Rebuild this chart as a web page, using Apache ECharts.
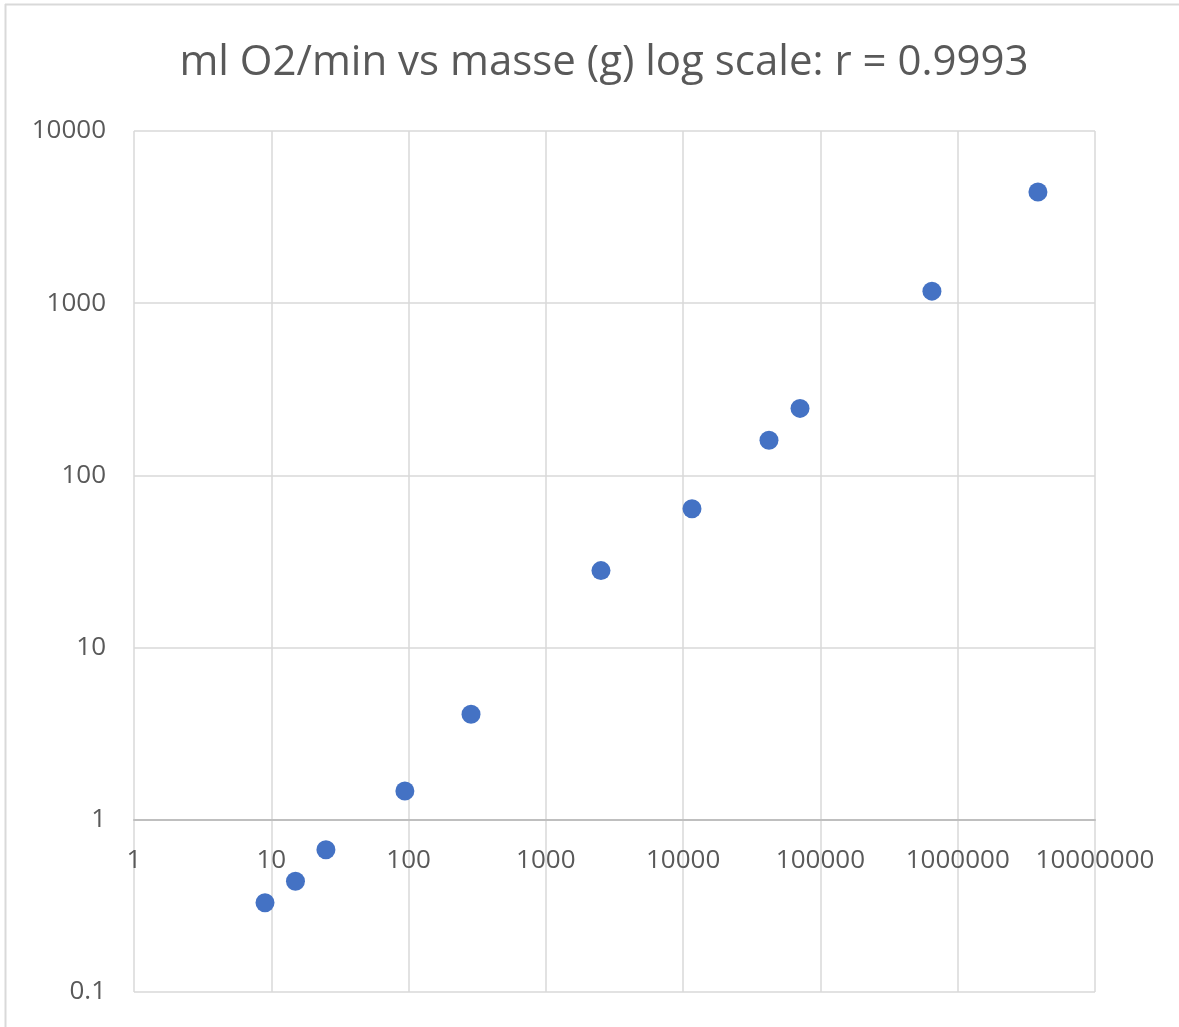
<!DOCTYPE html>
<html>
<head>
<meta charset="utf-8">
<script src="https://cdn.jsdelivr.net/npm/echarts@6/dist/echarts.min.js"></script>
<style>
html,body{margin:0;padding:0;background:#fff;}
#main{width:1179px;height:1027px;}
</style>
</head>
<body>
<div id="main"></div>
<script>
const titleText = 'ml O2/min vs masse (g) log scale: r = 0.9993';
const masse = [9, 15, 25, 94, 285, 2520, 11600, 42200, 71000, 649000, 3840000];
const o2 = [0.33, 0.44, 0.67, 1.47, 4.1, 28, 64, 160, 245, 1175, 4420];
const xTicks = [1, 10, 100, 1000, 10000, 100000, 1000000, 10000000];
const yTicks = [0.1, 1, 10, 100, 1000, 10000];

const points = masse.map((m, i) => [m, o2[i]]);
const fmt = v => (v >= 1 ? String(Math.round(v)) : String(+v.toPrecision(1)));

const chart = echarts.init(document.getElementById('main'), null, {renderer: 'canvas'});
const gridTop = 131, gridBottom = 35, gridH = 1027 - gridTop - gridBottom;
const yMinLog = Math.log10(yTicks[0]), yMaxLog = Math.log10(yTicks[yTicks.length - 1]);
const crossOffset = -gridH * (0 - yMinLog) / (yMaxLog - yMinLog);

chart.setOption({
  animation: false,
  backgroundColor: '#fff',
  title: {
    text: titleText,
    left: 599,
    top: 37,
    textAlign: 'center',
    textStyle: {fontFamily: 'Open Sans', fontSize: 42, fontWeight: 'normal', color: '#595959'}
  },
  graphic: [
    {type: 'line', shape: {x1: 5, y1: 4.5, x2: 1179, y2: 4.5}, style: {stroke: '#d9d9d9', lineWidth: 2}},
    {type: 'line', shape: {x1: 5.5, y1: 4, x2: 5.5, y2: 1027}, style: {stroke: '#d9d9d9', lineWidth: 2}}
  ],
  grid: {left: 134, right: 84, top: gridTop, bottom: gridBottom, containLabel: false},
  xAxis: {
    type: 'log',
    logBase: 10,
    min: xTicks[0],
    max: xTicks[xTicks.length - 1],
    position: 'bottom',
    offset: crossOffset,
    axisLine: {show: true, onZero: false, lineStyle: {color: '#bfbfbf', width: 2}},
    axisTick: {show: false},
    axisLabel: {formatter: fmt, fontFamily: 'Open Sans', fontSize: 26, color: '#595959', margin: 28, showMinLabel: true, showMaxLabel: true},
    splitLine: {show: true, lineStyle: {color: '#d9d9d9', width: 1.5}},
    minorTick: {show: false}
  },
  yAxis: {
    type: 'log',
    logBase: 10,
    min: yTicks[0],
    max: yTicks[yTicks.length - 1],
    axisLine: {show: false},
    axisTick: {show: false},
    axisLabel: {formatter: fmt, fontFamily: 'Open Sans', fontSize: 26, color: '#595959', margin: 28},
    splitLine: {show: true, lineStyle: {color: '#d9d9d9', width: 1.5}}
  },
  series: [{
    type: 'scatter',
    data: points,
    symbol: 'circle',
    symbolSize: 19,
    itemStyle: {color: '#4472C4', opacity: 1}
  }]
});
</script>
</body>
</html>
